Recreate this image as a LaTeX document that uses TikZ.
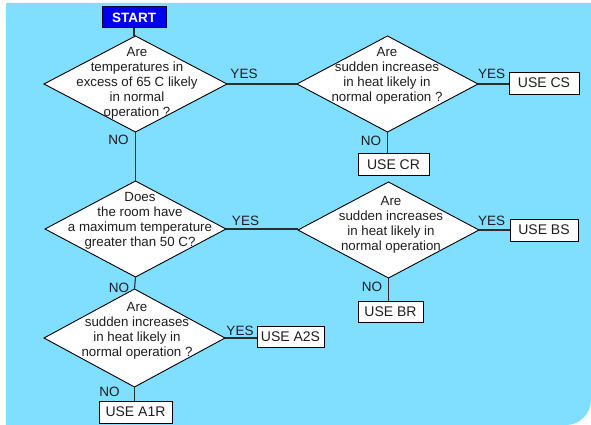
\documentclass[tikz,border=0pt]{standalone}
\usepackage{fontspec}
\setmainfont{Liberation Sans}
\usetikzlibrary{shapes.geometric}
\definecolor{bgblue}{RGB}{128,222,255}
\definecolor{startblue}{RGB}{0,0,240}
\definecolor{ink}{RGB}{30,30,30}
\definecolor{wire}{RGB}{45,45,45}
\tikzset{
  dia/.style={diamond, draw=black, fill=white, line width=0.9pt, inner sep=0pt, outer sep=0pt},
  qtxt/.style={align=center, text=ink, inner sep=0pt, font=\fontsize{13.3}{15}\selectfont},
  usebox/.style={draw=black, fill=white, line width=0.9pt, inner sep=0pt, outer sep=0pt, text=ink, font=\fontsize{14}{16}\selectfont},
  startbox/.style={draw=black!80!blue, fill=startblue, line width=1pt, inner sep=0pt, outer sep=0pt, text=white, font=\fontsize{13.5}{16}\selectfont\bfseries},
  lbl/.style={text=ink, inner sep=0pt, font=\fontsize{13.5}{16}\selectfont},
  wirel/.style={draw=wire, line width=1.1pt}
}
\begin{document}
\begin{tikzpicture}[x=1pt,y=-1pt]
\useasboundingbox (0,0) rectangle (591,425);
\fill[bgblue] (6,3) -- (591,3) -- (591,400) .. controls (591,413.8) and (579.8,425) .. (566,425) -- (6,425) -- cycle;

% start
\node[startbox, minimum width=64pt, minimum height=21pt] (start) at (134,17.5) {START};

% diamonds
\node[dia, minimum width=183pt, minimum height=96pt] (d1) at (135.5,84) {};
\node[dia, minimum width=181pt, minimum height=96pt] (d2) at (387.5,84) {};
\node[dia, minimum width=181pt, minimum height=96pt] (d3) at (135.5,229) {};
\node[dia, minimum width=181pt, minimum height=96pt] (d4) at (388.5,230) {};
\node[dia, minimum width=181pt, minimum height=98pt] (d5) at (134.5,338) {};

\node[qtxt] (t1) at (137,83) {Are\\temperatures in\\excess of 65 C likely\\in normal\\operation ?};
\node[qtxt] (t2) at (387,75.5) {Are\\sudden increases\\in heat likely in\\normal operation ?};
\node[qtxt] (t3) at (140,220.5) {Does\\the room have\\a maximum temperature\\greater than 50 C?};
\node[qtxt] (t4) at (391,224.5) {Are\\sudden increases\\in heat likely in\\normal operation};
\node[qtxt] (t5) at (137,331) {Are\\sudden increases\\in heat likely in\\normal operation ?};

% result boxes
\node[usebox, minimum width=70pt, minimum height=22pt] (cs) at (544,83) {USE CS};
\node[usebox, minimum width=71pt, minimum height=22pt] (cr) at (393.5,164.5) {USE CR};
\node[usebox, minimum width=68pt, minimum height=22pt] (bs) at (544,230) {USE BS};
\node[usebox, minimum width=65pt, minimum height=21pt] (br) at (390.5,311.5) {USE BR};
\node[usebox, minimum width=67pt, minimum height=21pt] (a2s) at (290.5,336.5) {USE A2S};
\node[usebox, minimum width=73pt, minimum height=22pt] (a1r) at (135.5,412) {USE A1R};

% connectors
\draw[wirel] (start.south) -- (start.south |- d1.north);
\draw[wirel] (d1.east) -- (d2.west);
\draw[wirel] (d2.east) -- (cs.west |- d2.east);
\draw[wirel] (d2.south) -- (d2.south |- cr.north);
\draw[wirel] (d1.south) -- (d3.north);
\draw[wirel] (d3.east) -- (d4.west |- d3.east);
\draw[wirel] (d4.east) -- (bs.west |- d4.east);
\draw[wirel] (d4.south) -- (d4.south |- br.north);
\draw[wirel] (d3.south) -- (d5.north);
\draw[wirel] (d5.east) -- (a2s.west |- d5.east);
\draw[wirel] (d5.south) -- (d5.south |- a1r.north);

% labels
\node[lbl] (y1) at (244,74) {YES};
\node[lbl] (y2) at (491.5,73.5) {YES};
\node[lbl] (n1) at (118.5,139.5) {NO};
\node[lbl] (n2) at (371,141) {NO};
\node[lbl] (y3) at (245.5,221) {YES};
\node[lbl] (y4) at (491.5,221) {YES};
\node[lbl] (n3) at (119,287.5) {NO};
\node[lbl] (n4) at (372,287) {NO};
\node[lbl] (y5) at (240,331) {YES};
\node[lbl] (n5) at (109.5,391.5) {NO};
\end{tikzpicture}
\end{document}
